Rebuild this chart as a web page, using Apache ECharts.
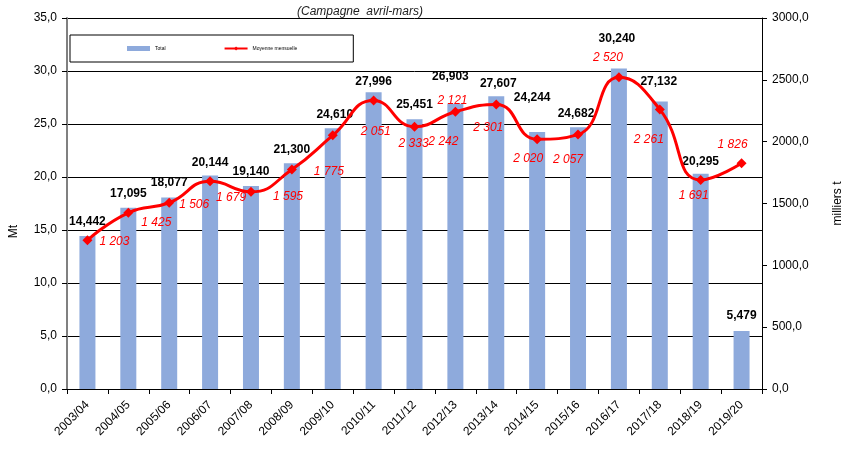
<!DOCTYPE html>
<html>
<head>
<meta charset="utf-8">
<script src="https://cdn.jsdelivr.net/npm/echarts@6/dist/echarts.min.js"></script>
<style>
html, body { margin: 0; padding: 0; background: #fff; }
#chart { width: 845px; height: 450px; }
</style>
</head>
<body>
<div id="chart"></div>
<script>
// campagnes avril-mars
const campaigns = ['2003/04', '2004/05', '2005/06', '2006/07', '2007/08', '2008/09', '2009/10',
  '2010/11', '2011/12', '2012/13', '2013/14', '2014/15', '2015/16', '2016/17', '2017/18',
  '2018/19', '2019/20'];
// total en Mt (axe de gauche)
const totalMt = [14.442, 17.095, 18.077, 20.144, 19.140, 21.300, 24.610, 27.996, 25.451,
  26.903, 27.607, 24.244, 24.682, 30.240, 27.132, 20.295, 5.479];
// moyenne mensuelle en milliers t (axe de droite)
const monthlyKt = [1203, 1425, 1506, 1679, 1595, 1775, 2051, 2333, 2121, 2242, 2301, 2020,
  2057, 2520, 2261, 1691, 1826];
const leftTicks = [0, 5, 10, 15, 20, 25, 30, 35];
const rightTicks = [0, 500, 1000, 1500, 2000, 2500, 3000];

// placement des étiquettes (décalages en px)
const barLabelShift = [[0, -3], [0, -3], [0, -4], [0, -2], [0, -3], [0, -3], [2, -2], [0, 0],
  [0, -4], [-5, -16], [2, -2], [-5, -23], [-2, -3], [-2, -19], [-1, -9], [0, -1], [0, -4]];
const lineLabelShift = [[27, 1], [28, 10], [25, 2], [21, 16], [37, 5], [37, 2], [43, -4],
  [40, 43], [38, -26], [-12, 30], [-8, 23], [-9, 19], [-10, 25], [-11, -20], [-11, 30],
  [-7, 16], [-9, -19]];

const FONT = '"Liberation Sans", Arial, sans-serif';
const comma = (v, d) => v.toFixed(d).replace('.', ',');
const spaced = v => String(v).replace(/\B(?=(\d{3})+(?!\d))/g, ' ');

const chart = echarts.init(document.getElementById('chart'));

chart.setOption({
  animation: false,
  textStyle: { fontFamily: FONT },
  title: {
    text: '(Campagne  avril-mars)',
    left: 355, top: 1, textAlign: 'center',
    textStyle: { fontFamily: FONT, fontSize: 12, fontStyle: 'italic', fontWeight: 'normal', color: '#222' }
  },
  legend: {
    left: 70, top: 35,
    padding: [11, 56, 11, 57],
    itemGap: 58,
    itemWidth: 23, itemHeight: 5,
    borderColor: '#000', borderWidth: 1,
    textStyle: { fontFamily: FONT, fontSize: 5, color: '#000' },
    data: [{ name: 'Total', icon: 'rect' }, { name: 'Moyenne mensuelle' }]
  },
  grid: { left: 67, right: 83, top: 18, bottom: 61, outerBoundsMode: 'none', containLabel: false },
  xAxis: {
    type: 'category',
    data: campaigns,
    axisLine: { lineStyle: { color: '#000', width: 1 } },
    axisTick: { show: true, length: 5, lineStyle: { color: '#000' } },
    axisLabel: { rotate: 45, fontSize: 12, color: '#000', margin: 14, fontFamily: FONT }
  },
  yAxis: [{
    type: 'value',
    min: leftTicks[0], max: leftTicks[leftTicks.length - 1], interval: leftTicks[1] - leftTicks[0],
    axisLine: { show: true, lineStyle: { color: '#808080', width: 2 } },
    axisTick: { show: true, length: 5, lineStyle: { color: '#000' } },
    axisLabel: { formatter: v => comma(v, 1), fontSize: 12, color: '#000', margin: 10, fontFamily: FONT },
    splitLine: { show: true, lineStyle: { color: '#000', width: 1 } }
  }, {
    type: 'value',
    min: rightTicks[0], max: rightTicks[rightTicks.length - 1], interval: rightTicks[1] - rightTicks[0],
    name: 'milliers t',
    nameLocation: 'middle', nameGap: 70, nameRotate: 90,
    nameTextStyle: { fontSize: 12, color: '#000', fontFamily: FONT },
    axisLine: { show: true, lineStyle: { color: '#000', width: 1 } },
    axisTick: { show: true, length: 5, lineStyle: { color: '#000' } },
    axisLabel: { formatter: v => comma(v, 1), fontSize: 12, color: '#000', margin: 10, fontFamily: FONT },
    splitLine: { show: false }
  }],
  graphic: [{
    type: 'text', left: 8, top: 225, rotation: Math.PI / 2,
    style: { text: 'Mt', font: '12px ' + FONT, fill: '#000' }
  }],
  series: [{
    name: 'Total',
    type: 'bar',
    barWidth: 16,
    itemStyle: { color: '#8eaadc' },
    data: totalMt.map((v, i) => ({
      value: v,
      label: { offset: barLabelShift[i] }
    })),
    label: {
      show: true, position: 'top', distance: 5,
      formatter: p => comma(p.value, 3),
      fontFamily: FONT, fontSize: 12, fontWeight: 'bold', color: '#000'
    }
  }, {
    name: 'Moyenne mensuelle',
    type: 'line',
    yAxisIndex: 1,
    smooth: 0.5,
    symbol: 'diamond', symbolSize: 10,
    lineStyle: { color: '#ff0000', width: 3 },
    itemStyle: { color: '#ff0000' },
    z: 5,
    data: monthlyKt.map((v, i) => ({
      value: v,
      label: { offset: lineLabelShift[i] }
    })),
    label: {
      show: true, position: 'inside',
      formatter: p => spaced(p.value),
      fontFamily: FONT, fontSize: 12, fontStyle: 'italic', color: '#ff0000'
    }
  }]
});
</script>
</body>
</html>
